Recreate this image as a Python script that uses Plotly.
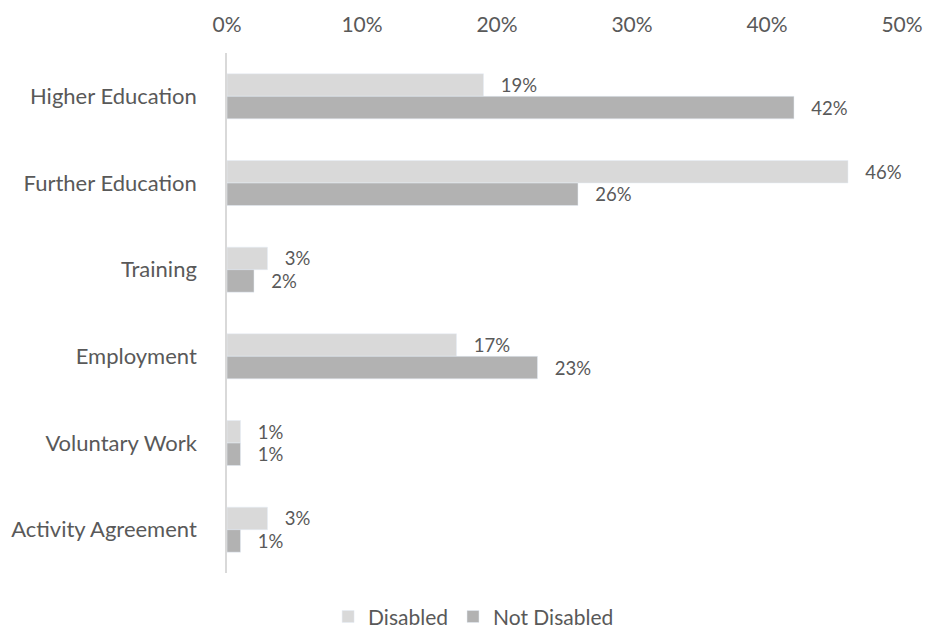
import plotly.graph_objects as go

categories = ["Higher Education", "Further Education", "Training", "Employment", "Voluntary Work", "Activity Agreement"]
disabled = [19, 46, 3, 17, 1, 3]
not_disabled = [42, 26, 2, 23, 1, 1]
tick_vals = [0, 10, 20, 30, 40, 50]
tick_text = ["0%", "10%", "20%", "30%", "40%", "50%"]

FONT = "Lato"
TXT = "#595959"

fig = go.Figure()
fig.add_trace(go.Bar(
    y=categories, x=disabled, orientation="h", name="Disabled",
    marker=dict(color="#D9D9D9"),
    text=["\u00a0\u00a0\u00a0%d%%" % v for v in disabled], textposition="outside",
    textfont=dict(color=TXT, size=18.5, family=FONT), cliponaxis=False,
))
fig.add_trace(go.Bar(
    y=categories, x=not_disabled, orientation="h", name="Not Disabled",
    marker=dict(color="#B2B2B2"),
    text=["\u00a0\u00a0\u00a0%d%%" % v for v in not_disabled], textposition="outside",
    textfont=dict(color=TXT, size=18.5, family=FONT), cliponaxis=False,
))

fig.update_layout(
    width=925, height=632,
    paper_bgcolor="white", plot_bgcolor="white",
    font=dict(family=FONT, color=TXT, size=21),
    barmode="group", bargap=0.48, bargroupgap=0,
    margin=dict(l=227, r=23, t=53, b=59),
    showlegend=True,
    legend=dict(orientation="h", xref="container", yref="container",
                x=0.512, xanchor="center", y=0.024, yanchor="middle",
                font=dict(size=21, color=TXT), traceorder="normal"),
    uniformtext=dict(mode=False),
)
fig.update_xaxes(range=[0, 50], side="top", tickvals=tick_vals, ticktext=tick_text,
                 showgrid=False, zeroline=False, showline=False, automargin=False,
                 ticklabeloverflow="allow",
                 tickfont=dict(size=21, color=TXT), ticks="", ticklabelstandoff=16)
fig.update_yaxes(autorange="reversed", showline=True, linecolor="#D9D9D9", linewidth=1.5,
                 showgrid=False, ticks="", tickfont=dict(size=22, color=TXT), automargin=False,
                 ticklabelstandoff=24)

fig.write_html("out.html", config={"displayModeBar": False},
               post_script="document.body.style.margin='0';")
